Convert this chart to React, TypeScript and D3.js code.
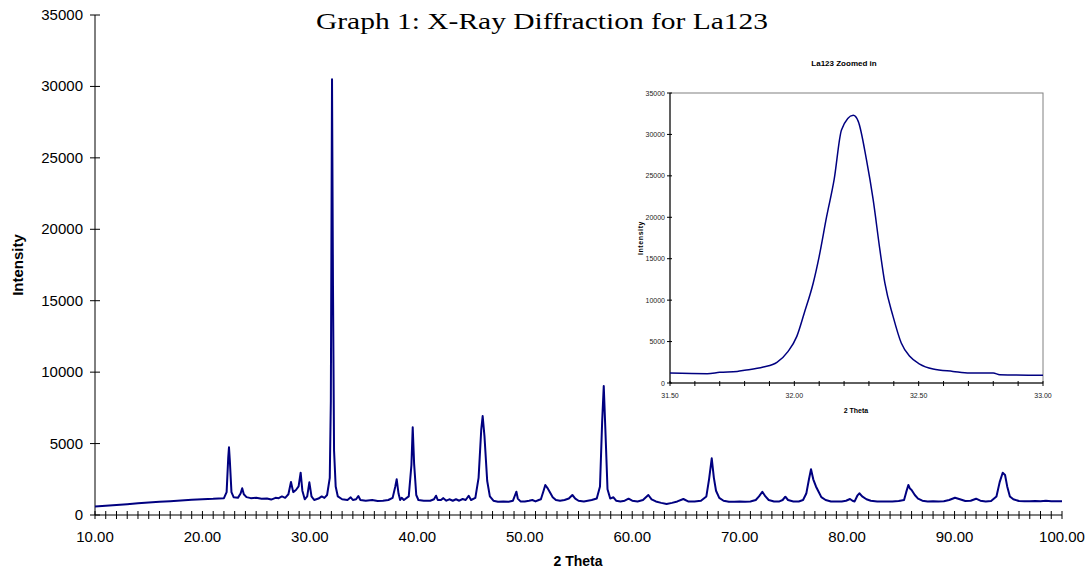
import React from "react";
import * as d3 from "d3";

// main scan: [2 theta, intensity]
const mainScan: [number, number][] = [
  [10.0, 600], [11.0, 650], [12.0, 700], [13.0, 760], [14.0, 820], [15.0, 870],
  [16.0, 920], [17.0, 960], [18.0, 1010], [19.0, 1060], [20.0, 1100], [21.0, 1130],
  [22.0, 1180], [22.25, 1600], [22.4, 4000], [22.47, 4740], [22.55, 3800], [22.7, 1600],
  [22.9, 1250], [23.3, 1200], [23.55, 1500], [23.7, 1870], [23.85, 1450], [24.1, 1250],
  [24.5, 1180], [25.0, 1200], [25.5, 1130], [26.0, 1150], [26.4, 1080], [26.8, 1200],
  [27.1, 1180], [27.4, 1300], [27.7, 1200], [28.0, 1450], [28.24, 2310], [28.45, 1600],
  [28.7, 1750], [28.95, 2000], [29.14, 2960], [29.3, 1700], [29.52, 1100], [29.75, 1300],
  [29.95, 2290], [30.15, 1300], [30.4, 1050], [30.8, 1150], [31.1, 1300], [31.35, 1200],
  [31.6, 1400], [31.85, 2600], [31.95, 8000], [32.06, 30500], [32.15, 16000], [32.25, 4500],
  [32.4, 2000], [32.6, 1300], [33.0, 1100], [33.5, 1050], [33.8, 1240], [34.0, 1050],
  [34.3, 1100], [34.51, 1330], [34.7, 1050], [35.2, 1000], [35.8, 1050], [36.3, 980],
  [36.8, 1000], [37.3, 1050], [37.7, 1200], [37.95, 2000], [38.08, 2500], [38.25, 1500],
  [38.4, 1050], [38.54, 1210], [38.75, 1050], [39.2, 1300], [39.45, 3500], [39.57, 6140],
  [39.7, 3600], [39.9, 1400], [40.1, 1050], [40.6, 1000], [41.2, 1000], [41.55, 1100],
  [41.74, 1350], [41.9, 1050], [42.2, 1050], [42.42, 1180], [42.7, 1000], [42.98, 1100],
  [43.3, 1000], [43.6, 1100], [43.9, 1000], [44.22, 1120], [44.5, 1050], [44.78, 1350],
  [45.0, 1050], [45.4, 1200], [45.7, 2600], [45.95, 6000], [46.08, 6930], [46.25, 5500],
  [46.5, 2400], [46.75, 1300], [47.08, 1000], [47.5, 930], [48.0, 950], [48.5, 930],
  [48.9, 1000], [49.1, 1400], [49.22, 1630], [49.35, 1150], [49.6, 950], [50.0, 950],
  [50.4, 1000], [50.7, 1050], [51.0, 950], [51.3, 1050], [51.5, 1100], [51.75, 1700],
  [51.91, 2100], [52.1, 1900], [52.3, 1650], [52.6, 1250], [52.9, 1050], [53.28, 1000],
  [53.7, 1050], [54.1, 1150], [54.43, 1400], [54.7, 1150], [55.0, 1000], [55.5, 950],
  [56.23, 1050], [56.7, 1150], [57.0, 2000], [57.2, 6500], [57.35, 9030], [57.5, 6000],
  [57.7, 1800], [57.95, 1150], [58.25, 1240], [58.5, 1000], [58.9, 950], [59.3, 1000],
  [59.66, 1140], [60.0, 1000], [60.5, 950], [61.0, 1050], [61.5, 1400], [61.8, 1100],
  [62.2, 950], [62.7, 850], [63.2, 770], [63.7, 850], [64.2, 950], [64.76, 1120],
  [65.2, 950], [65.8, 950], [66.4, 1000], [66.9, 1300], [67.15, 2500], [67.4, 3970],
  [67.6, 2600], [67.8, 1700], [68.1, 1200], [68.5, 1000], [69.0, 930], [69.5, 930],
  [70.0, 950], [70.5, 930], [71.0, 950], [71.5, 1050], [71.8, 1300], [72.11, 1630],
  [72.4, 1300], [72.7, 1050], [73.2, 950], [73.7, 950], [74.0, 1050], [74.25, 1280],
  [74.5, 1050], [75.0, 950], [75.5, 950], [75.9, 1050], [76.2, 1500], [76.45, 2500],
  [76.64, 3200], [76.85, 2500], [77.1, 2000], [77.3, 1700], [77.6, 1250], [78.0, 1050],
  [78.5, 950], [79.0, 950], [79.5, 950], [79.9, 1000], [80.27, 1120], [80.5, 1000],
  [80.7, 950], [80.95, 1350], [81.14, 1520], [81.4, 1300], [81.8, 1100], [82.2, 1000],
  [82.8, 950], [83.5, 950], [84.2, 950], [84.8, 980], [85.3, 1050], [85.5, 1600],
  [85.7, 2100], [85.85, 1850], [86.0, 1750], [86.3, 1400], [86.6, 1150], [87.0, 1000],
  [87.5, 950], [88.0, 960], [88.5, 950], [89.0, 960], [89.5, 1050], [90.04, 1210],
  [90.5, 1100], [91.0, 980], [91.5, 1000], [92.0, 1140], [92.4, 1000], [92.9, 950],
  [93.4, 980], [93.9, 1300], [94.2, 2300], [94.48, 2960], [94.7, 2800], [94.9, 2000],
  [95.15, 1300], [95.47, 1100], [96.0, 980], [96.5, 970], [97.0, 960], [97.5, 980],
  [98.0, 960], [98.5, 990], [99.0, 960], [99.5, 970], [100.0, 960],
];

// zoomed-in scan around the strongest peak
const insetScan: [number, number][] = [
  [31.5, 1200], [31.65, 1130], [31.7, 1290], [31.77, 1400], [31.8, 1530], [31.875, 1930],
  [31.93, 2500], [31.975, 3820], [32.01, 5630], [32.04, 8450], [32.076, 12070], [32.1, 15290],
  [32.13, 20100], [32.16, 24540], [32.19, 30570], [32.237, 32300], [32.257, 31580],
  [32.29, 26950], [32.317, 22120], [32.344, 16090], [32.364, 12070], [32.397, 8040],
  [32.43, 4830], [32.464, 3220], [32.504, 2290], [32.558, 1690], [32.638, 1400],
  [32.705, 1200], [32.8, 1200], [32.826, 1000], [33.0, 925],
];

const yTickValues = [0, 5000, 10000, 15000, 20000, 25000, 30000, 35000];
const mainXLabels = [10, 20, 30, 40, 50, 60, 70, 80, 90, 100];
const insetXLabels = [31.5, 32.0, 32.5, 33.0];

const W = 1089;
const H = 571;
const LINE = "#000080";
const SANS = "Arial, 'Liberation Sans', sans-serif";

export default function App() {
  const x = d3.scaleLinear().domain([10, 100]).range([95, 1062]);
  const y = d3.scaleLinear().domain([0, 35000]).range([515, 15]);
  const line = d3.line<[number, number]>().x(d => x(d[0])).y(d => y(d[1]));

  const ix = d3.scaleLinear().domain([31.5, 33.0]).range([670, 1043]);
  const iy = d3.scaleLinear().domain([0, 35000]).range([383, 93]);
  const iline = d3
    .line<[number, number]>()
    .x(d => ix(d[0]))
    .y(d => iy(d[1]))
    .curve(d3.curveMonotoneX);

  const minorX = d3.range(10, 100.001, 1);
  const insetMinor = d3.range(0, 16).map(i => 31.5 + i * 0.1);

  return (
    <svg width={W} height={H} style={{ position: "absolute", left: 0, top: 0, background: "#fff" }}>
      <text x={542} y={29} textAnchor="middle" fontFamily="'Times New Roman', 'Liberation Serif', serif"
        fontSize={24} textLength={452} lengthAdjust="spacingAndGlyphs">
        Graph 1: X-Ray Diffraction for La123
      </text>

      {/* main axes */}
      <g stroke="#000" strokeWidth={1}>
        <line x1={x(10)} x2={x(10)} y1={y(0)} y2={y(35000)} />
        <line x1={x(10)} x2={x(100)} y1={y(0)} y2={y(0)} />
        {yTickValues.map(v => (
          <line key={v} x1={x(10) - 5} x2={x(10) + 5} y1={y(v)} y2={y(v)} />
        ))}
        {minorX.map(v => (
          <line key={v} x1={x(v)} x2={x(v)} y1={y(0) - 4} y2={y(0) + 4} />
        ))}
      </g>
      <g fontFamily={SANS} fontSize={15} fill="#000">
        {yTickValues.map(v => (
          <text key={v} x={x(10) - 12} y={y(v) + 5} textAnchor="end">{v}</text>
        ))}
        {mainXLabels.map(v => (
          <text key={v} x={x(v)} y={y(0) + 27} textAnchor="middle">{v.toFixed(2)}</text>
        ))}
      </g>
      <text x={578} y={566} textAnchor="middle" fontFamily={SANS} fontSize={14} fontWeight="bold">2 Theta</text>
      <text transform={`translate(23,${y(17500)}) rotate(-90)`} textAnchor="middle" fontFamily={SANS}
        fontSize={15} fontWeight="bold">Intensity</text>

      <path d={line(mainScan) ?? ""} fill="none" stroke={LINE} strokeWidth={2} strokeLinejoin="round" />

      {/* inset */}
      <rect x={ix(31.5)} y={iy(35000)} width={ix(33) - ix(31.5)} height={iy(0) - iy(35000)}
        fill="#fff" stroke="#808080" strokeWidth={1} />
      <g stroke="#000" strokeWidth={1}>
        <line x1={ix(31.5)} x2={ix(31.5)} y1={iy(0)} y2={iy(35000)} />
        <line x1={ix(31.5)} x2={ix(33)} y1={iy(0)} y2={iy(0)} />
        {yTickValues.map(v => (
          <line key={v} x1={ix(31.5) - 3} x2={ix(31.5) + 2} y1={iy(v)} y2={iy(v)} />
        ))}
        {insetMinor.map(v => (
          <line key={v} x1={ix(v)} x2={ix(v)} y1={iy(0) - 2} y2={iy(0) + 3} />
        ))}
      </g>
      <g fontFamily={SANS} fontSize={7} fill="#222">
        {yTickValues.map(v => (
          <text key={v} x={ix(31.5) - 5} y={iy(v) + 2.5} textAnchor="end">{v}</text>
        ))}
        {insetXLabels.map(v => (
          <text key={v} x={ix(v)} y={iy(0) + 15} textAnchor="middle">{v.toFixed(2)}</text>
        ))}
      </g>
      <text x={856} y={413} textAnchor="middle" fontFamily={SANS} fontSize={7} fontWeight="bold">2 Theta</text>
      <text transform={`translate(643,238) rotate(-90)`} textAnchor="middle" fontFamily={SANS}
        fontSize={7} fontWeight="bold" letterSpacing={0.6}>Intensity</text>
      <text x={844} y={66} textAnchor="middle" fontFamily={SANS} fontSize={8} fontWeight="bold">La123 Zoomed in</text>
      <path d={iline(insetScan) ?? ""} fill="none" stroke={LINE} strokeWidth={1.5} />
    </svg>
  );
}
